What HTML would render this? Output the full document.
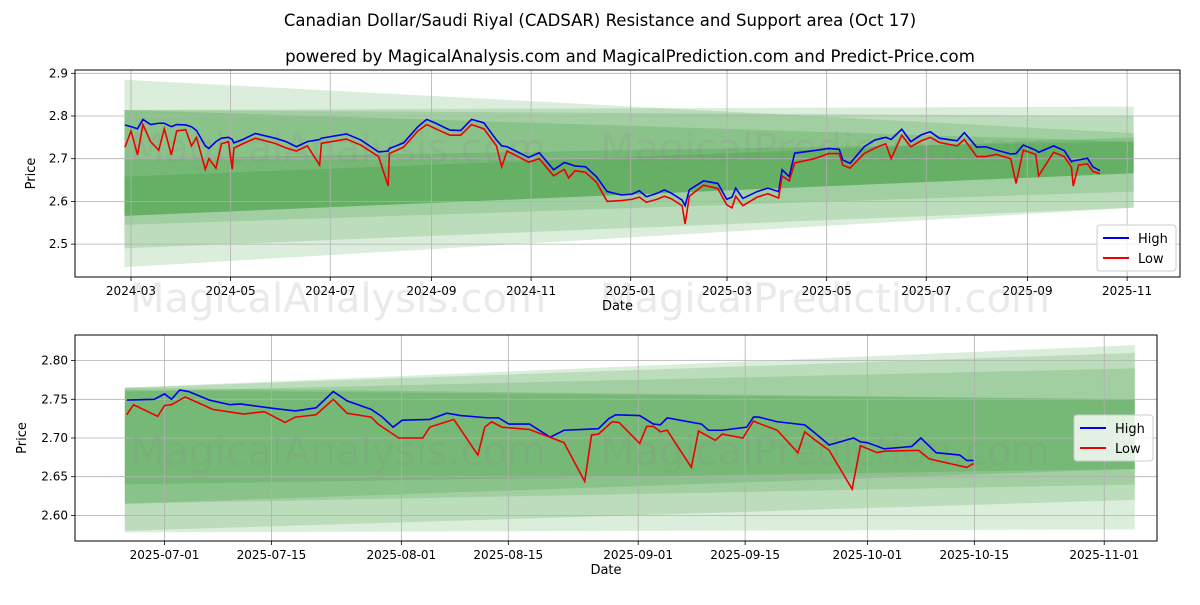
<!DOCTYPE html>
<html><head><meta charset="utf-8"><style>
body{margin:0;background:#fff;width:1200px;height:600px;overflow:hidden;font-family:"Liberation Sans","DejaVu Sans",sans-serif}
svg text{font-family:"DejaVu Sans","Liberation Sans",sans-serif}
</style></head><body>
<svg id="chart" width="1200" height="600" viewBox="0 0 1200 600" xmlns="http://www.w3.org/2000/svg">
<text x="600" y="26" text-anchor="middle" font-size="16.5">Canadian Dollar/Saudi Riyal (CADSAR) Resistance and Support area (Oct 17)</text>
<text x="630" y="62" text-anchor="middle" font-size="16.6">powered by MagicalAnalysis.com and MagicalPrediction.com and Predict-Price.com</text>
<g id="top"></g>
<g id="bot"></g>
</svg>
<script>
// ---- top panel data (days since 2024-03-01) ----
const topDays=[-3.7,0,4,7.3,12,17,20.4,24.7,28,33.5,37,40.1,45.5,47.7,52,55.4,59.7,62,63,68.5,76.1,88.2,95,101.3,108,115.5,116.6,131.9,140.7,151.6,157.5,158.2,166.9,175.7,181.1,186.6,195.3,201.9,208.5,216.1,223.8,227,230.3,243.5,250,258.8,265.3,268,271.9,278.4,285,291.6,300.3,306.9,311.3,315.6,322.2,326.6,331,337.5,339.3,341.9,350.6,359.4,364.8,368,370.3,374.7,383.4,390,396.6,398.7,403.1,406.4,418.4,427.2,433.7,435.9,440.3,449,455.6,462.2,465.5,472,477.5,484,489.5,495,505.9,510.3,517.9,523.4,530,538.7,542,546.4,554,555.8,565,571.5,575.9,577,580.3,585.7,589,593.4];
const topHigh=[2.779,2.775,2.770,2.792,2.780,2.783,2.783,2.775,2.780,2.779,2.775,2.766,2.730,2.724,2.740,2.748,2.750,2.745,2.737,2.745,2.759,2.748,2.740,2.728,2.740,2.745,2.748,2.758,2.744,2.716,2.718,2.724,2.737,2.775,2.792,2.783,2.767,2.766,2.792,2.784,2.744,2.730,2.728,2.703,2.714,2.674,2.691,2.688,2.683,2.681,2.658,2.623,2.615,2.617,2.625,2.611,2.619,2.627,2.619,2.603,2.590,2.627,2.648,2.642,2.605,2.610,2.631,2.607,2.623,2.631,2.623,2.674,2.658,2.713,2.719,2.724,2.722,2.697,2.689,2.728,2.744,2.750,2.745,2.769,2.740,2.756,2.763,2.748,2.742,2.761,2.727,2.728,2.720,2.711,2.712,2.732,2.720,2.715,2.730,2.719,2.693,2.695,2.697,2.701,2.681,2.672];
const topLow=[2.727,2.765,2.709,2.780,2.740,2.720,2.770,2.709,2.765,2.768,2.730,2.750,2.675,2.700,2.678,2.735,2.740,2.675,2.725,2.735,2.748,2.736,2.725,2.718,2.730,2.685,2.736,2.746,2.732,2.705,2.636,2.712,2.727,2.765,2.780,2.770,2.755,2.755,2.780,2.770,2.730,2.681,2.718,2.692,2.700,2.660,2.675,2.655,2.672,2.668,2.645,2.600,2.602,2.605,2.610,2.598,2.605,2.612,2.606,2.590,2.547,2.612,2.638,2.630,2.592,2.585,2.612,2.590,2.610,2.618,2.608,2.660,2.648,2.690,2.700,2.712,2.712,2.685,2.678,2.712,2.725,2.735,2.700,2.755,2.728,2.742,2.750,2.738,2.730,2.745,2.705,2.705,2.710,2.700,2.642,2.720,2.710,2.660,2.715,2.705,2.680,2.636,2.685,2.688,2.670,2.665];
const topTickDays=[0,61,122,184,245,306,365,426,487,549,610];
const topTickLabels=["2024-03","2024-05","2024-07","2024-09","2024-11","2025-01","2025-03","2025-05","2025-07","2025-09","2025-11"];
const topYTicks=[2.5,2.6,2.7,2.8,2.9];
const topBandTopL=[2.885,2.814,2.814,2.658,2.814,2.70];
const topBandBotL=[2.446,2.49,2.545,2.566,2.566,2.566];
const topBandTopR=[2.76,2.822,2.80,2.75,2.74,2.74];
const topBandBotR=[2.585,2.585,2.623,2.666,2.666,2.666];
// ---- bottom panel data (days since 2025-07-01) ----
const botHighDays=[-4.95,-1.34,0.01,0.91,1.99,3.16,5.87,8.57,9.92,14.43,17.13,19.84,22.09,23.9,27.05,28.4,29.93,31.11,34.71,36.96,38.77,42.37,43.73,45.08,47.78,50.48,52.29,56.8,58.15,59.05,62.2,64.0,64.9,65.8,70.3,71.2,73.0,76.2,77.1,77.8,80.2,83.8,84.7,87.0,90.2,91.1,92.0,94.2,97.8,99.0,101.0,104.1,105.0,105.9];
const botHigh=[2.749,2.750,2.757,2.750,2.762,2.760,2.749,2.743,2.744,2.738,2.735,2.739,2.760,2.748,2.737,2.728,2.714,2.723,2.724,2.732,2.729,2.726,2.726,2.718,2.718,2.701,2.710,2.712,2.725,2.730,2.729,2.718,2.717,2.726,2.718,2.710,2.710,2.714,2.727,2.727,2.721,2.717,2.710,2.691,2.700,2.695,2.694,2.686,2.689,2.700,2.681,2.678,2.671,2.671];
const botLowDays=[-4.95,-4.05,-0.89,0.01,0.91,2.71,3.16,6.32,10.37,13.08,15.78,17.13,19.84,22.09,23.9,27.05,27.95,30.65,33.81,34.71,37.87,41.02,41.92,42.82,44.18,47.78,52.29,55.0,55.9,56.8,58.6,59.5,62.2,63.1,64.0,64.9,65.8,68.96,69.9,72.1,73.0,75.7,77.1,77.5,80.2,82.9,83.8,85.2,87.0,90.0,91.1,93.3,94.2,98.7,100.1,105.0,105.9];
const botLow=[2.730,2.743,2.728,2.742,2.743,2.753,2.751,2.737,2.731,2.734,2.720,2.727,2.730,2.750,2.732,2.727,2.718,2.700,2.700,2.714,2.724,2.678,2.714,2.721,2.714,2.711,2.694,2.644,2.704,2.705,2.721,2.720,2.693,2.715,2.715,2.708,2.710,2.662,2.709,2.697,2.705,2.700,2.722,2.720,2.710,2.681,2.708,2.697,2.684,2.634,2.690,2.681,2.683,2.684,2.673,2.662,2.667];
const botTickDays=[0,14,31,45,62,76,92,106,123];
const botTickLabels=["2025-07-01","2025-07-15","2025-08-01","2025-08-15","2025-09-01","2025-09-15","2025-10-01","2025-10-15","2025-11-01"];
const botYTicks=[2.60,2.65,2.70,2.75,2.80];
const botBandTopL=[2.765,2.765,2.762,2.76,2.765];
const botBandBotL=[2.578,2.58,2.615,2.615,2.64];
const botBandTopR=[2.82,2.81,2.75,2.79,2.75];
const botBandBotR=[2.582,2.62,2.66,2.64,2.66];

const NS="http://www.w3.org/2000/svg";
function mk(parent,tag,attrs,text){const e=document.createElementNS(NS,tag);for(const k in attrs)e.setAttribute(k,attrs[k]);if(text!==undefined)e.textContent=text;parent.appendChild(e);return e;}

function panel(g,cfg){
  const {L,R,T,B,xs,ys}=cfg;
  for(let i=0;i<cfg.bTL.length;i++){
    const x0=xs(cfg.bandStart),x1=xs(cfg.bandEnd);
    const p=mk(g,'polygon',{points:`${x0},${ys(cfg.bTL[i])} ${x1},${ys(cfg.bTR[i])} ${x1},${ys(cfg.bBR[i])} ${x0},${ys(cfg.bBL[i])}`,fill:'rgb(0,128,0)','fill-opacity':0.14});
    
    
  }
  cfg.xt.forEach((d,i)=>{const x=xs(d);
    const l=mk(g,'line',{x1:x,x2:x,y1:T,y2:B,stroke:'#b0b0b0','stroke-width':0.8});
    
    mk(g,'line',{x1:x,x2:x,y1:B,y2:B+4,stroke:'#000','stroke-width':0.8});
    const t=mk(g,'text',{x:x,y:B+18,'text-anchor':'middle','font-size':12},cfg.xl[i]);
    
  });
  cfg.yt.forEach(v=>{const y=ys(v);
    const l=mk(g,'line',{x1:L,x2:R,y1:y,y2:y,stroke:'#b0b0b0','stroke-width':0.8});
    
    mk(g,'line',{x1:L-4,x2:L,y1:y,y2:y,stroke:'#000','stroke-width':0.8});
    const t=mk(g,'text',{x:L-7,y:y+4,'text-anchor':'end','font-size':12},v.toFixed(cfg.dec));
    
  });
  cfg.wm.forEach(w=>{const t=mk(g,'text',{x:w[0],y:w[1],'font-size':40,fill:'#888','fill-opacity':0.18},w[2]);
    });
  const hp=cfg.hd.map((d,i)=>xs(d)+','+ys(cfg.h[i])).join(' ');
  const lp=cfg.ld.map((d,i)=>xs(d)+','+ys(cfg.l[i])).join(' ');
  const hl=mk(g,'polyline',{points:hp,fill:'none',stroke:'#0000ee','stroke-width':1.6});
  
  const ll=mk(g,'polyline',{points:lp,fill:'none',stroke:'#ee0000','stroke-width':1.6});
  
  const f=mk(g,'rect',{x:L,y:T,width:R-L,height:B-T,fill:'none',stroke:'#000','stroke-width':1});
  
  const xl=mk(g,'text',{x:(L+R)/2-10,y:B+33,'text-anchor':'middle','font-size':13},'Date');
  
  const yl=mk(g,'text',{x:0,y:0,'text-anchor':'middle','font-size':13,transform:`translate(${cfg.ylx},${(T+B)/2}) rotate(-90)`},'Price');
  
  const lg=mk(g,'g',{});
  
  const lx=R-83,ly=cfg.legY;
  mk(lg,'rect',{x:lx,y:ly,width:79,height:46,rx:3,fill:'#fff','fill-opacity':0.8,stroke:'#ccc'});
  mk(lg,'line',{x1:lx+6,x2:lx+32,y1:ly+13,y2:ly+13,stroke:'#0000ee','stroke-width':2});
  const t1=mk(lg,'text',{x:lx+41,y:ly+18,'font-size':13},'High');
  
  mk(lg,'line',{x1:lx+6,x2:lx+32,y1:ly+33,y2:ly+33,stroke:'#ee0000','stroke-width':2});
  const t2=mk(lg,'text',{x:lx+41,y:ly+38,'font-size':13},'Low');
  
}

panel(document.getElementById('top'),{L:75,R:1180,T:70,B:277,
  xs:d=>131+d*1.633, ys:p=>116-(p-2.8)*427,
  bandStart:-4,bandEnd:614,bTL:topBandTopL,bBL:topBandBotL,bTR:topBandTopR,bBR:topBandBotR,
  xt:topTickDays,xl:topTickLabels,yt:topYTicks,dec:1,
  hd:topDays,h:topHigh,ld:topDays,l:topLow,ylx:35,legY:225,
  wm:[[130,162,'MagicalAnalysis.com'],[600,162,'MagicalPrediction.com'],[130,312,'MagicalAnalysis.com'],[600,312,'MagicalPrediction.com']]});
panel(document.getElementById('bot'),{L:75,R:1157,T:335,B:541,
  xs:d=>164.5+d*7.64, ys:p=>399.3-(p-2.75)*774,
  bandStart:-5.2,bandEnd:127,bTL:botBandTopL,bBL:botBandBotL,bTR:botBandTopR,bBR:botBandBotR,
  xt:botTickDays,xl:botTickLabels,yt:botYTicks,dec:2,
  hd:botHighDays,h:botHigh,ld:botLowDays,l:botLow,ylx:26,legY:415,
  wm:[[130,465,'MagicalAnalysis.com'],[600,465,'MagicalPrediction.com']]});
</script>
</body></html>
